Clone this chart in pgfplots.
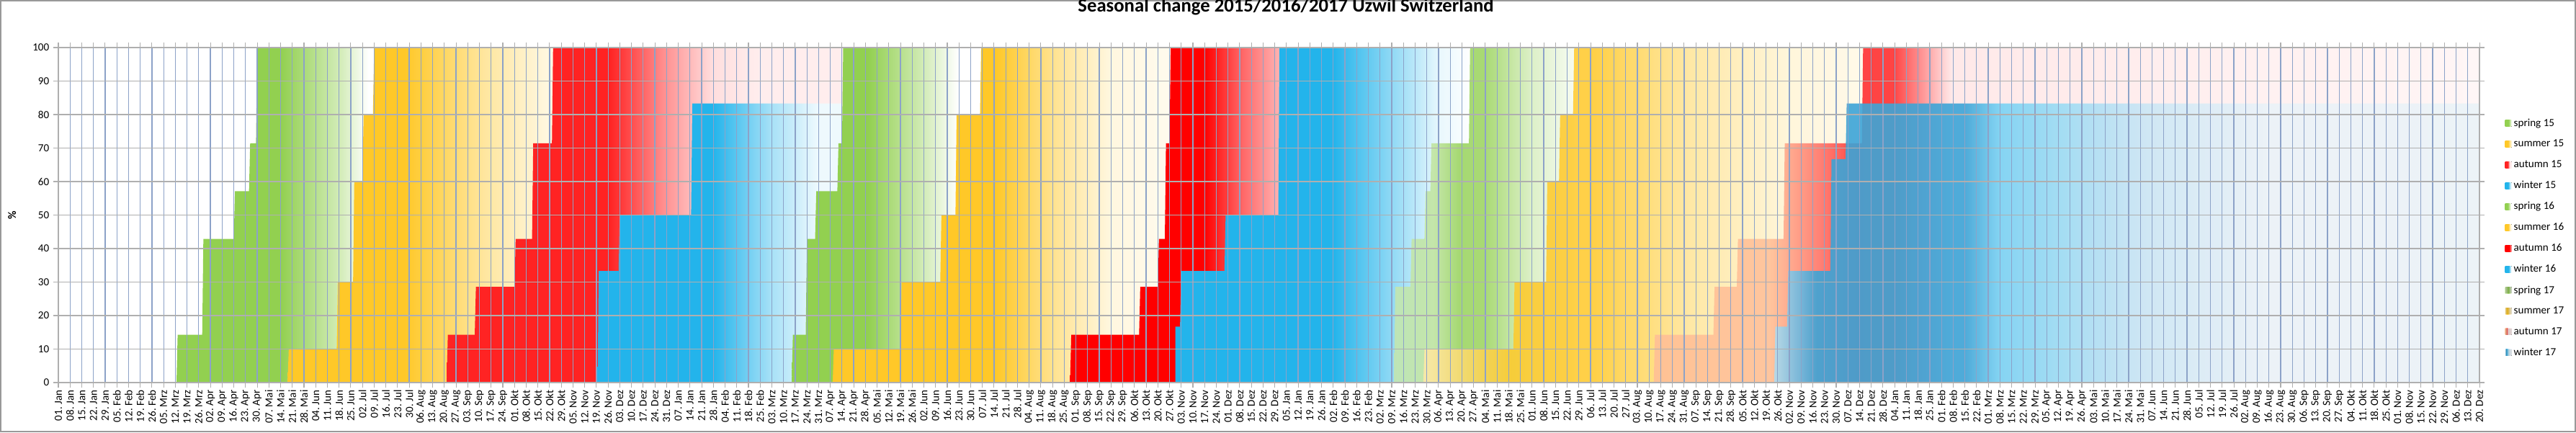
\documentclass[border=0pt]{standalone}
\usepackage{fontspec}
\setmainfont{Carlito}
\usepackage{pgfplots}
\usepackage{pgfcalendar}
\pgfplotsset{compat=1.18}
\definecolor{G}{RGB}{146,208,80}
\definecolor{Y}{RGB}{255,200,40}
\definecolor{R}{RGB}{255,35,35}
\definecolor{RR}{RGB}{255,0,0}
\definecolor{B}{RGB}{35,180,235}
\definecolor{BB}{RGB}{60,165,215}
\definecolor{Sal}{RGB}{255,190,150}
\definecolor{Rm}{RGB}{255,110,100}
\definecolor{Bl}{RGB}{120,210,245}
\definecolor{Bp}{RGB}{200,230,245}
\definecolor{Bq}{RGB}{235,243,248}
\definecolor{gridv}{RGB}{140,162,200}
\definecolor{gridh}{RGB}{175,175,175}
\pgfdeclarehorizontalshading{spA}{100bp}{color(0bp)=(G); color(25bp)=(G); color(51bp)=(G); color(66bp)=(G!40); color(73bp)=(white); color(100bp)=(white)}
\pgfdeclarehorizontalshading{suA}{100bp}{color(0bp)=(Y); color(25bp)=(Y); color(47bp)=(Y); color(62bp)=(Y!45); color(75bp)=(Y!12); color(100bp)=(Y!12)}
\pgfdeclarehorizontalshading{auA}{100bp}{color(0bp)=(R); color(25bp)=(R); color(45.5bp)=(R); color(52.5bp)=(R!50); color(58.5bp)=(R!15); color(64.5bp)=(R!8); color(100bp)=(R!8)}
\pgfdeclarehorizontalshading{wiA}{100bp}{color(0bp)=(B); color(25bp)=(B); color(48.5bp)=(B); color(60.5bp)=(B!40); color(70bp)=(B!8); color(100bp)=(B!5)}
\pgfdeclarehorizontalshading{spB}{100bp}{color(0bp)=(G); color(25bp)=(G); color(45bp)=(G); color(60bp)=(G!40); color(69bp)=(white); color(100bp)=(white)}
\pgfdeclarehorizontalshading{suB}{100bp}{color(0bp)=(Y); color(25bp)=(Y); color(49bp)=(Y); color(58bp)=(Y!50); color(66bp)=(Y!15); color(75bp)=(Y!8); color(100bp)=(Y!8)}
\pgfdeclarehorizontalshading{auB}{100bp}{color(0bp)=(RR); color(25bp)=(RR); color(57bp)=(RR); color(66bp)=(RR!60); color(75bp)=(RR!30); color(100bp)=(RR!30)}
\pgfdeclarehorizontalshading{wiB}{100bp}{color(0bp)=(B); color(25bp)=(B); color(51.5bp)=(B); color(61.5bp)=(B!50); color(69.5bp)=(B!10); color(75bp)=(white); color(100bp)=(white)}
\pgfdeclarehorizontalshading{spC}{100bp}{color(0bp)=(G!50); color(25bp)=(G!50); color(36bp)=(G!60); color(43bp)=(G); color(50bp)=(G); color(63bp)=(G!40); color(75bp)=(G!10); color(100bp)=(G!10)}
\pgfdeclarehorizontalshading{suC}{100bp}{color(0bp)=(Y!40); color(25bp)=(Y!40); color(35bp)=(Y); color(44.5bp)=(Y); color(55bp)=(Y!50); color(66.5bp)=(Y!20); color(75bp)=(Y!12); color(100bp)=(Y!12)}
\pgfdeclarehorizontalshading{auC}{100bp}{color(0bp)=(Sal); color(25bp)=(Sal); color(32bp)=(Sal); color(35bp)=(Rm); color(37.5bp)=(R); color(39.5bp)=(R); color(43bp)=(R!12); color(75bp)=(R!5); color(100bp)=(R!5)}
\pgfdeclarehorizontalshading{wiC}{100bp}{color(0bp)=(BB!40); color(25bp)=(BB!40); color(28bp)=(BB); color(38.5bp)=(BB); color(41bp)=(Bl); color(51bp)=(Bp); color(60bp)=(Bq); color(100bp)=(Bq)}
\newcount\basejd
\pgfcalendardatetojulian{2015-01-01}{\basejd}
\newcommand\mon[1]{\ifcase\number#1\or Jan\or Feb\or Mrz\or Apr\or Mai\or Jun\or Jul\or Aug\or Sep\or Okt\or Nov\or Dez\fi}
\newcommand\wklabel[1]{\pgfmathtruncatemacro\tk{round(#1)}\edef\jd{\the\numexpr\basejd+7*\tk\relax}\pgfcalendarjuliantodate{\jd}{\yy}{\mm}{\dd}\ifnum\dd<10 0\fi\number\dd.\ \mon{\mm}}
\begin{document}
\begin{tikzpicture}
\fontsize{4.3}{5}\selectfont
\path[use as bounding box] (-8.1mm,-6.9mm) rectangle (349.5mm,53.1mm);
\draw[line width=0.6pt, color=gray!80] (-8.0mm,-6.8mm) rectangle (349.4mm,53.0mm);
\begin{axis}[
  at={(0,0)}, anchor=south west, scale only axis,
  width=336.1mm, height=46.5mm,
  xmin=0, xmax=207, ymin=0, ymax=100,
  xtick={0,...,207}, ytick={0,10,...,100},
  xticklabel={\wklabel{\tick}},
  xticklabel style={rotate=90, anchor=east, font=\fontsize{4.3}{5}\selectfont, inner sep=0.8pt},
  yticklabel style={font=\fontsize{4.3}{5}\selectfont},
  /pgf/number format/assume math mode=true,
  tick align=outside, major tick length=0.7mm,
  tick style={gridh, line width=0.3pt},
  xmajorgrids, ymajorgrids,
  x grid style={gridv, line width=0.35pt},
  y grid style={gridh, line width=0.35pt},
  axis line style={gridh, line width=0.4pt},
  axis on top,
  ylabel={\%}, ylabel style={font=\fontsize{4.5}{5}\selectfont\bfseries, at={(rel axis cs:-0.0158,0.5)}},
  title={\fontsize{7.6}{9}\selectfont\bfseries Seasonal change 2015/2016/2017 Uzwil Switzerland},
  title style={at={(rel axis cs:0.507,1)}, anchor=south, yshift=1.8mm},
  legend style={at={(rel axis cs:1.0104,0.795)}, anchor=north west, draw=none, fill=none,
    font=\fontsize{4.3}{5}\selectfont, row sep=1.05mm, inner sep=0pt,
    nodes={inner sep=0.3mm}},
  legend cell align=left,
  legend image code/.code={\fill[#1] (0mm,-0.45mm) rectangle (0.9mm,0.45mm);},
]
\addplot[draw=none, shading=spA] coordinates {(10.1,0)(10.2,14.3)(12.3,14.3)(12.4,42.9)(15.0,42.9)(15.1,57.1)(16.3,57.1)(16.4,71.4)(16.9,71.4)(17.0,100)(27.2,100)(27.2,0)} \closedcycle;
\addlegendentry{spring 15}
\addplot[draw=none, shading=suA] coordinates {(19.6,0)(19.7,10)(23.8,10)(23.9,30)(25.2,30)(25.3,60)(26.0,60)(26.1,80)(26.9,80)(27.0,100)(42.3,100)(42.3,0)} \closedcycle;
\addlegendentry{summer 15}
\addplot[draw=none, shading=auA] coordinates {(33.2,0)(33.3,14.3)(35.6,14.3)(35.7,28.6)(39.0,28.6)(39.1,42.9)(40.5,42.9)(40.6,71.4)(42.2,71.4)(42.3,100)(67.1,100)(67.1,0)} \closedcycle;
\addlegendentry{autumn 15}
\addplot[draw=none, shading=wiA] coordinates {(46.1,0)(46.2,33.3)(47.9,33.3)(48.0,50)(54.1,50)(54.2,83.3)(67.0,83.3)(67.0,0)} \closedcycle;
\addlegendentry{winter 15}
\addplot[draw=none, shading=spB] coordinates {(62.7,0)(62.8,14.3)(63.9,14.3)(64.0,42.9)(64.7,42.9)(64.8,57.1)(66.6,57.1)(66.7,71.4)(67.0,71.4)(67.1,100)(78.9,100)(78.9,0)} \closedcycle;
\addlegendentry{spring 16}
\addplot[draw=none, shading=suB] coordinates {(66.2,0)(66.3,10)(72.0,10)(72.1,30)(75.4,30)(75.5,50)(76.7,50)(76.8,80)(78.8,80)(78.9,100)(95.1,100)(95.1,0)} \closedcycle;
\addlegendentry{summer 16}
\addplot[draw=none, shading=auB] coordinates {(86.5,0)(86.6,14.3)(92.4,14.3)(92.5,28.6)(94.0,28.6)(94.1,42.9)(94.6,42.9)(94.7,71.4)(95.0,71.4)(95.1,100)(104.4,100)(104.4,0)} \closedcycle;
\addlegendentry{autumn 16}
\addplot[draw=none, shading=wiB] coordinates {(95.5,0)(95.5,16.7)(95.9,16.7)(96.0,33.3)(99.7,33.3)(99.8,50)(104.3,50)(104.4,100)(120.9,100)(120.9,0)} \closedcycle;
\addlegendentry{winter 16}
\addplot[draw=none, shading=spC, fill opacity=0.8] coordinates {(114.2,0)(114.3,28.6)(115.6,28.6)(115.7,42.9)(116.8,42.9)(116.9,57.1)(117.3,57.1)(117.4,71.4)(120.6,71.4)(120.7,100)(129.6,100)(129.6,0)} \closedcycle;
\addlegendentry{spring 17}
\addplot[draw=none, shading=suC, fill opacity=0.85] coordinates {(116.7,0)(116.8,10)(124.4,10)(124.5,30)(127.2,30)(127.3,60)(128.3,60)(128.4,80)(129.5,80)(129.6,100)(154.3,100)(154.3,0)} \closedcycle;
\addlegendentry{summer 17}
\addplot[draw=none, shading=auC, fill opacity=0.85] coordinates {(136.4,0)(136.5,14.3)(141.5,14.3)(141.6,28.6)(143.5,28.6)(143.6,42.9)(147.5,42.9)(147.6,71.4)(154.2,71.4)(154.3,100)(207,100)(207,0)} \closedcycle;
\addlegendentry{autumn 17}
\addplot[draw=none, shading=wiC, fill opacity=0.9] coordinates {(146.7,0)(146.8,16.7)(147.8,16.7)(147.9,33.3)(151.5,33.3)(151.6,66.7)(152.8,66.7)(152.9,83.3)(207,83.3)(207,0)} \closedcycle;
\addlegendentry{winter 17}
\end{axis}
\end{tikzpicture}
\end{document}
